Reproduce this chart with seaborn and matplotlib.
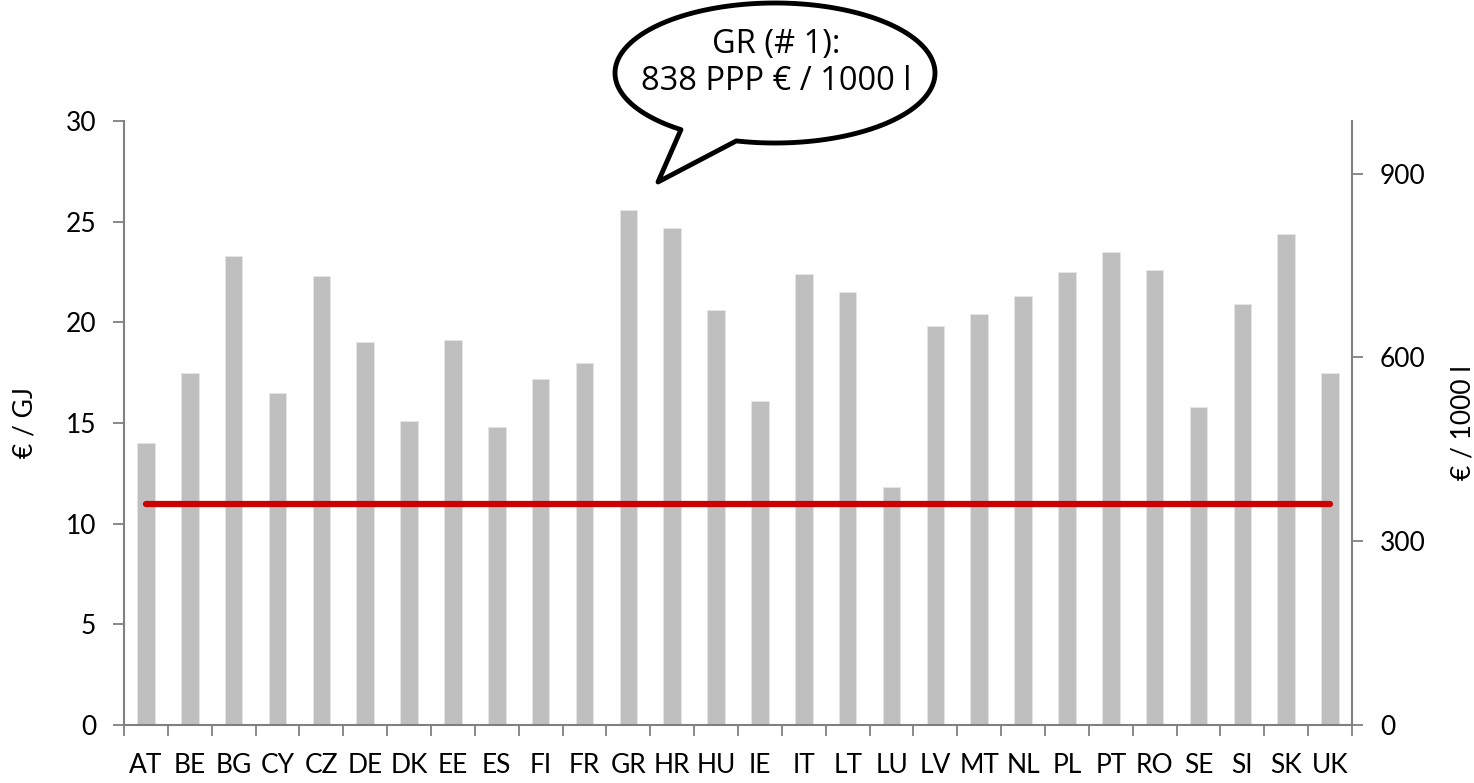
import numpy as np
import pandas as pd
import seaborn as sns
from matplotlib import pyplot as plt
from matplotlib.path import Path
from matplotlib.patches import PathPatch
from matplotlib.ticker import FixedLocator, NullFormatter

# data
countries = ["AT", "BE", "BG", "CY", "CZ", "DE", "DK", "EE", "ES", "FI",
             "FR", "GR", "HR", "HU", "IE", "IT", "LT", "LU", "LV", "MT",
             "NL", "PL", "PT", "RO", "SE", "SI", "SK", "UK"]
price_gj = [14.0, 17.5, 23.3, 16.5, 22.3, 19.0, 15.1, 19.1, 14.8, 17.2,
            18.0, 25.6, 24.7, 20.6, 16.1, 22.4, 21.5, 11.8, 19.8, 20.4,
            21.3, 22.5, 23.5, 22.6, 15.8, 20.9, 24.4, 17.5]
reference_level = 11.0
left_ticks = [0, 5, 10, 15, 20, 25, 30]
right_ticks = [0, 300, 600, 900]
right_max = 986
callout_text = "GR (# 1):\n838 PPP € / 1000 l"

sns.set_style("white")
plt.rcParams['font.family'] = ['Lato', 'DejaVu Sans']
plt.rcParams['text.color'] = "black"
plt.rcParams['axes.labelcolor'] = "black"
plt.rcParams['xtick.labelcolor'] = "black"
plt.rcParams['ytick.labelcolor'] = "black"

GREY = "#808080"
FS = 19

df = pd.DataFrame({"country": countries, "price": price_gj})

fig = plt.figure(figsize=(14.74, 7.83), dpi=100)
ax = fig.add_axes([124 / 1474, 58 / 783, (1352 - 124) / 1474, (725 - 121) / 783])

sns.barplot(data=df, x="country", y="price", color="#BFBFBF", saturation=1,
            width=0.4, ax=ax, edgecolor="#E6E6E6", linewidth=0.6)

n = len(countries)
ax.hlines(reference_level, 0, n - 1, color="#CC0000", lw=4.5, capstyle="round", zorder=3)

ax.set_xlim(-0.5, n - 0.5)
ax.set_ylim(0, 30)
ax.set_yticks(left_ticks)
ax.set_xlabel("")
ax.set_ylabel("€ / GJ", fontsize=FS, labelpad=20)

# tick marks between categories, labels at the centres
ax.xaxis.set_minor_locator(FixedLocator(np.arange(-0.5, n, 1.0)))
ax.xaxis.set_minor_formatter(NullFormatter())
ax.tick_params(axis="x", which="major", length=0, pad=20, labelsize=FS)
ax.tick_params(axis="x", which="minor", length=8, width=1.3, color=GREY, direction="out", bottom=True)
ax.tick_params(axis="y", length=8, width=1.3, color=GREY, direction="out", left=True, pad=12, labelsize=FS)

for s in ["top", "right"]:
    ax.spines[s].set_visible(False)
for s in ["left", "bottom"]:
    ax.spines[s].set_color(GREY)
    ax.spines[s].set_linewidth(1.5)

ax2 = ax.twinx()
ax2.set_ylim(0, right_max)
ax2.set_yticks(right_ticks)
ax2.set_ylabel("€ / 1000 l", fontsize=FS, labelpad=18)
ax2.tick_params(axis="y", length=8, width=1.3, color=GREY, direction="out", right=True, pad=12, labelsize=FS)
for s in ["top", "left", "bottom"]:
    ax2.spines[s].set_visible(False)
ax2.spines["right"].set_color(GREY)
ax2.spines["right"].set_linewidth(1.5)

# speech bubble (in figure pixels, y from top)
cx, cy, a, b = 775, 73, 160, 70
t = np.radians(np.linspace(256, 594, 200))
pts = [(cx + a * np.cos(v), cy - b * np.sin(v)) for v in t]
pts.append((658, 182))
pts.append(pts[0])
verts = [(x / 100, (783 - y) / 100) for x, y in pts]
codes = [Path.MOVETO] + [Path.LINETO] * (len(verts) - 2) + [Path.CLOSEPOLY]
bubble = PathPatch(Path(verts, codes), facecolor="white", edgecolor="black", lw=3.5,
                   joinstyle="round", transform=fig.dpi_scale_trans, zorder=5)
fig.patches.append(bubble)
fig.text(776 / 1474, 1 - 63 / 783, callout_text, ha="center", va="center", color="black",
         fontsize=23.5, linespacing=1.15, family=["Open Sans", "DejaVu Sans"], zorder=6)

fig.savefig("out.png", dpi=100)
